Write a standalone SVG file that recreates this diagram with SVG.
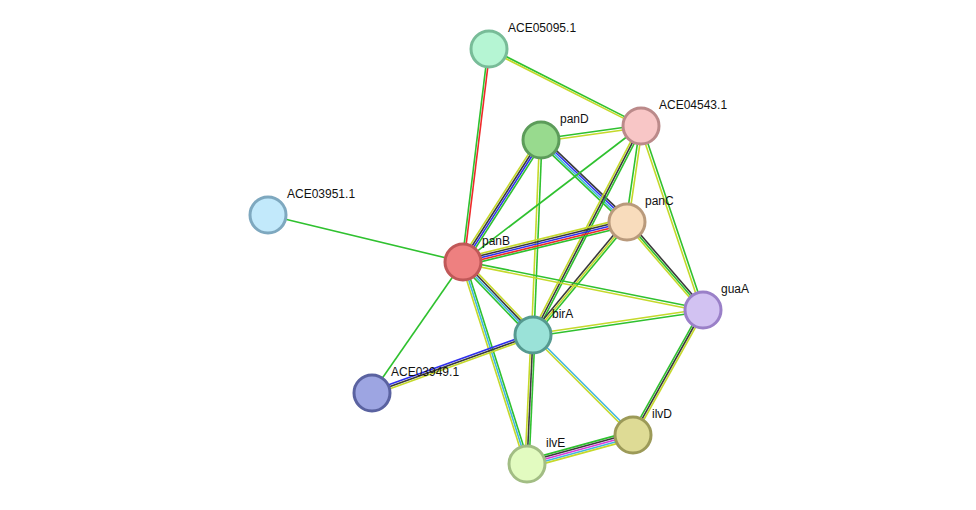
<svg xmlns="http://www.w3.org/2000/svg" width="976" height="510" viewBox="0 0 976 510">
<style>
line{stroke-width:1.6;fill:none}
.g{stroke:#2fc12f}.y{stroke:#c5d92a}.k{stroke:#3a3a3a}.b{stroke:#3030ee}.c{stroke:#3fb6e0}.r{stroke:#ee2a2a}.m{stroke:#d83ad8}
circle{stroke-width:3}
text{font-family:"Liberation Sans",Arial,sans-serif;font-size:12px;fill:#111}
</style>
<rect width="976" height="510" fill="#fff"/>
<g id="connectors">
<g transform="translate(489,49) rotate(96.96)"><line class="r" x1="0" y1="-1" x2="214.6" y2="-1"/><line class="g" x1="0" y1="1" x2="214.6" y2="1"/></g>
<g transform="translate(489,49) rotate(26.87)"><line class="g" x1="0" y1="-1" x2="170.4" y2="-1"/><line class="y" x1="0" y1="1" x2="170.4" y2="1"/></g>
<g transform="translate(541,140) rotate(-7.97)"><line class="g" x1="0" y1="-1" x2="101" y2="-1"/><line class="y" x1="0" y1="1.5" x2="101" y2="1.5"/></g>
<g transform="translate(463,262) rotate(-57.4)"><line class="y" x1="0" y1="-3" x2="144.8" y2="-3"/><line class="k" x1="0" y1="-1" x2="144.8" y2="-1"/><line class="b" x1="0" y1="1" x2="144.8" y2="1"/><line class="g" x1="0" y1="3" x2="144.8" y2="3"/></g>
<g transform="translate(541,140) rotate(43.64)"><line class="k" x1="0" y1="-3" x2="118.8" y2="-3"/><line class="b" x1="0" y1="-1" x2="118.8" y2="-1"/><line class="c" x1="0" y1="1" x2="118.8" y2="1"/><line class="g" x1="0" y1="3" x2="118.8" y2="3"/></g>
<g transform="translate(541,140) rotate(92.35)"><line class="g" x1="0" y1="-1" x2="195.2" y2="-1"/><line class="y" x1="0" y1="1.5" x2="195.2" y2="1.5"/></g>
<g transform="translate(463,262) rotate(-37.38)"><line class="g" x1="0" y1="0" x2="224" y2="0"/></g>
<g transform="translate(627,222) rotate(-81.7)"><line class="g" x1="0" y1="-1" x2="97" y2="-1"/><line class="y" x1="0" y1="1.5" x2="97" y2="1.5"/></g>
<g transform="translate(533,335) rotate(-62.67)"><line class="y" x1="0" y1="-2" x2="235.3" y2="-2"/><line class="k" x1="0" y1="0" x2="235.3" y2="0"/><line class="g" x1="0" y1="2" x2="235.3" y2="2"/></g>
<g transform="translate(641,126) rotate(71.4)"><line class="g" x1="0" y1="-1" x2="194.2" y2="-1"/><line class="y" x1="0" y1="1.5" x2="194.2" y2="1.5"/></g>
<g transform="translate(463,262) rotate(-13.7)"><line class="y" x1="0" y1="-4" x2="168.8" y2="-4"/><line class="k" x1="0" y1="-2" x2="168.8" y2="-2"/><line class="b" x1="0" y1="0" x2="168.8" y2="0"/><line class="r" x1="0" y1="2" x2="168.8" y2="2"/><line class="g" x1="0" y1="4" x2="168.8" y2="4"/></g>
<g transform="translate(533,335) rotate(-50.25)"><line class="k" x1="0" y1="-2" x2="147" y2="-2"/><line class="y" x1="0" y1="0" x2="147" y2="0"/><line class="g" x1="0" y1="2" x2="147" y2="2"/></g>
<g transform="translate(627,222) rotate(49.2)"><line class="k" x1="0" y1="-2" x2="116.3" y2="-2"/><line class="g" x1="0" y1="0" x2="116.3" y2="0"/><line class="y" x1="0" y1="2" x2="116.3" y2="2"/></g>
<g transform="translate(268,215) rotate(13.55)"><line class="g" x1="0" y1="0" x2="200.6" y2="0"/></g>
<g transform="translate(463,262) rotate(11.31)"><line class="g" x1="0" y1="-1" x2="244.8" y2="-1"/><line class="y" x1="0" y1="1.5" x2="244.8" y2="1.5"/></g>
<g transform="translate(463,262) rotate(46.2)"><line class="y" x1="0" y1="-3" x2="101.1" y2="-3"/><line class="k" x1="0" y1="-1" x2="101.1" y2="-1"/><line class="c" x1="0" y1="1" x2="101.1" y2="1"/><line class="g" x1="0" y1="3" x2="101.1" y2="3"/></g>
<g transform="translate(463,262) rotate(124.8)"><line class="g" x1="0" y1="0" x2="159.5" y2="0"/></g>
<g transform="translate(463,262) rotate(72.4)"><line class="g" x1="0" y1="-2" x2="211.9" y2="-2"/><line class="c" x1="0" y1="0" x2="211.9" y2="0"/><line class="y" x1="0" y1="2" x2="211.9" y2="2"/></g>
<g transform="translate(372,393) rotate(-19.8)"><line class="b" x1="0" y1="-2" x2="171.1" y2="-2"/><line class="k" x1="0" y1="0" x2="171.1" y2="0"/><line class="y" x1="0" y1="2" x2="171.1" y2="2"/></g>
<g transform="translate(533,335) rotate(-8.37)"><line class="y" x1="0" y1="-1" x2="171.8" y2="-1"/><line class="g" x1="0" y1="1.5" x2="171.8" y2="1.5"/></g>
<g transform="translate(533,335) rotate(92.66)"><line class="g" x1="0" y1="-2" x2="129.1" y2="-2"/><line class="k" x1="0" y1="0" x2="129.1" y2="0"/><line class="y" x1="0" y1="2" x2="129.1" y2="2"/></g>
<g transform="translate(533,335) rotate(45)"><line class="c" x1="0" y1="-1" x2="141.4" y2="-1"/><line class="y" x1="0" y1="1" x2="141.4" y2="1"/></g>
<g transform="translate(703,310) rotate(119.25)"><line class="y" x1="0" y1="-2" x2="143.3" y2="-2"/><line class="k" x1="0" y1="0" x2="143.3" y2="0"/><line class="g" x1="0" y1="2" x2="143.3" y2="2"/></g>
<g transform="translate(527,464) rotate(-15.3)"><line class="g" x1="0" y1="-4" x2="109.9" y2="-4"/><line class="k" x1="0" y1="-2" x2="109.9" y2="-2"/><line class="m" x1="0" y1="0" x2="109.9" y2="0"/><line class="c" x1="0" y1="2" x2="109.9" y2="2"/><line class="y" x1="0" y1="4" x2="109.9" y2="4"/></g>
</g>
<g id="ACE05095.1"><circle cx="489" cy="49" r="18" fill="#b5f5d3" stroke="#78bc98"/><text x="508" y="32">ACE05095.1</text></g>
<g id="ACE04543.1"><circle cx="641" cy="126" r="18" fill="#f8c6c6" stroke="#bb8a8a"/><text x="659" y="109">ACE04543.1</text></g>
<g id="panD"><circle cx="541" cy="140" r="18" fill="#98da8e" stroke="#5c9c5a"/><text x="560" y="123">panD</text></g>
<g id="ACE03951.1"><circle cx="268" cy="215" r="18" fill="#c2e9fb" stroke="#7ea8bf"/><text x="287" y="198">ACE03951.1</text></g>
<g id="panC"><circle cx="627" cy="222" r="18" fill="#f8dcbc" stroke="#b99a7c"/><text x="645" y="205">panC</text></g>
<g id="panB"><circle cx="463" cy="262" r="18" fill="#ee8080" stroke="#c05858"/><text x="482" y="245">panB</text></g>
<g id="guaA"><circle cx="703" cy="310" r="18" fill="#d2c2f2" stroke="#9a80c8"/><text x="721" y="293">guaA</text></g>
<g id="birA"><circle cx="533" cy="335" r="18" fill="#9ae2d8" stroke="#559a90"/><text x="552" y="318">birA</text></g>
<g id="ACE03949.1"><circle cx="372" cy="393" r="18" fill="#9da5e2" stroke="#5a62a0"/><text x="391" y="376">ACE03949.1</text></g>
<g id="ilvD"><circle cx="633" cy="435" r="18" fill="#dedb95" stroke="#9c9a58"/><text x="652" y="418">ilvD</text></g>
<g id="ilvE"><circle cx="527" cy="464" r="18" fill="#e2fbc0" stroke="#a2bd84"/><text x="546" y="447">ilvE</text></g>
</svg>
